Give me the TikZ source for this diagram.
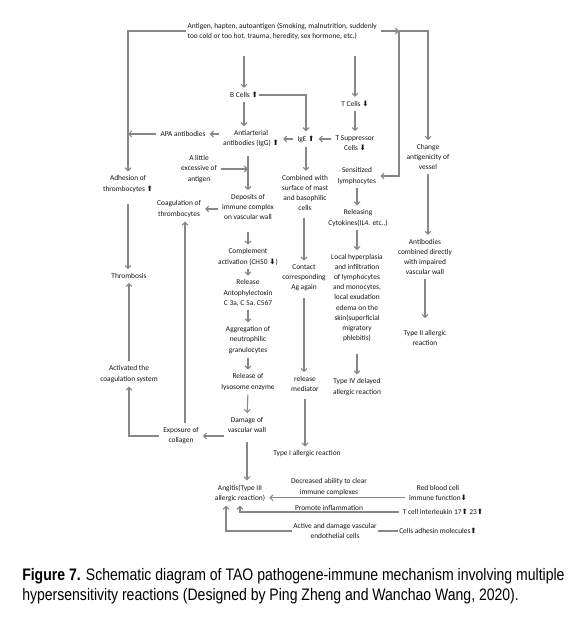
\documentclass[tikz,border=0pt]{standalone}
\usepackage{fontspec}
\setmainfont{Carlito}
\newfontfamily\capfont[FakeStretch=0.842]{Liberation Sans}
\newfontfamily\symfont{DejaVu Sans}
\usetikzlibrary{arrows.meta}
\definecolor{linegray}{RGB}{135,135,135}
\definecolor{textgray}{RGB}{20,20,20}
\newcommand{\uparr}{{\symfont\fontsize{5.6}{5}\selectfont ⬆}}
\newcommand{\dnarr}{{\symfont\fontsize{5.6}{5}\selectfont ⬇}}
\tikzset{
  box/.style={font=\fontsize{5.55}{7.6}\selectfont, align=center, inner sep=1pt, text=textgray},
  arr/.style={draw=linegray, line width=0.8pt, -{Straight Barb[length=2.2pt,width=4.4pt]},
    shorten >=2pt, shorten <=2pt},
}

\begin{document}
\begin{tikzpicture}[x=0.75pt, y=-0.75pt]
  \useasboundingbox (0,0) rectangle (580,624);
  % source of the antigens
  \node[box, anchor=west, align=left] (top) at (186,31)
    {Antigen, hapten, autoantigen (Smoking, malnutrition, suddenly\\too cold or too hot, trauma, heredity, sex hormone, etc.)};
  \coordinate (split) at (399,31);
  % first row
  \node[box] (bcells)    at (244,95)  {B Cells \uparr};
  \node[box] (tcells)    at (355,104) {T Cells \dnarr};
  \node[box] (apa)       at (183,134) {APA antibodies};
  \node[box] (igg)       at (251,139) {Antiarterial\\antibodies (IgG) \uparr};
  \node[box] (ige)       at (306,139) {IgE \uparr};
  \node[box] (tsup)      at (355,143) {T Suppressor\\Cells \dnarr};
  \node[box] (change)    at (428,157) {Change\\antigenicity of\\vessel};
  \node[box] (little)    at (199,169) {A little\\excessive of\\antigen};
  \node[box] (adhesion)  at (128,184) {Adhesion of\\thrombocytes \uparr};
  \node[box] (sens)      at (357,176) {Sensitized\\lymphocytes};
  \node[box] (combined)  at (305,193) {Combined with\\surface of mast\\and basophilic\\cells};
  \node[box] (deposits)  at (248,207) {Deposits of\\immune complex\\on vascular wall};
  \node[box] (coag)      at (179,209) {Coagulation of\\thrombocytes};
  \node[box] (cytok)     at (358,218) {Releasing\\Cytokines(IL4. etc..)};
  % middle rows
  \node[box] (antib)     at (425,257) {Antibodies\\combined directly\\with impaired\\vascular wall};
  \node[box] (complement) at (248,257) {Complement\\activation (CH50 \dnarr)};
  \node[box] (thromb)    at (129,276) {Thrombosis};
  \node[box] (contact)   at (304,278) {Contact\\corresponding\\Ag again};
  \node[box] (release)   at (248,293) {Release\\Antophylectoxin\\C 3a, C 5a, C567};
  \node[box] (local)     at (357,298) {Local hyperplasia\\and infiltration\\of lymphocytes\\and monocytes,\\local exudation\\edema on the\\skin(superficial\\migratory\\phlebitis)};
  \node[box] (typeII)    at (425,338) {Type II allergic\\reaction};
  \node[box] (aggreg)    at (248,340) {Aggregation of\\neutrophilic\\granulocytes};
  \node[box] (activated) at (129,374) {Activated the\\coagulation system};
  \node[box] (lyso)      at (248,382) {Release of\\lysosome enzyme};
  \node[box] (mediator)  at (305,384) {release\\mediator};
  \node[box] (typeIV)    at (357,387) {Type IV delayed\\allergic reaction};
  \node[box] (damage)    at (247,425) {Damage of\\vascular wall};
  \node[box] (exposure)  at (181,436) {Exposure of\\collagen};
  \node[box] (typeI)     at (307,454) {Type I allergic reaction};
  % bottom
  \node[box] (angitis)   at (240,493) {Angitis(Type III\\allergic reaction)};
  \node[box] (rbc)       at (438,493) {Red blood cell\\immune function\dnarr};
  \node[box] (tcell)     at (443,512) {T cell interleukin 17\uparr\ 23\uparr};
  \node[box] (adhesin)   at (438,531) {Cells adhesin molecules\uparr};

  % connectors
  \draw[arr, shorten <=0pt] (top.west) -| (adhesion.north);
  \draw[arr, shorten >=0pt] (top.east) -- (split);
  \draw[arr, shorten <=0pt] (split) |- (sens.east);
  \draw[arr, shorten <=0pt] (split) -| (change.north);
  \draw[arr, shorten <=11pt] (top.south -| bcells) -- (bcells.north);
  \draw[arr, shorten <=11pt] (top.south -| tcells) -- (tcells.north);
  \draw[arr, shorten <=0pt] (bcells.east) -| (ige.north);
  \draw[arr] (bcells.south) -- (bcells.south |- igg.north);
  \draw[arr] (igg.west |- apa) -- (apa.east);
  \draw[arr, shorten >=0pt] (apa.west) -- (apa.west -| adhesion.north);
  \draw[arr] (ige.west) -- (ige.west -| igg.east);
  \draw[arr] (tsup.west |- ige) -- (ige.east);
  \draw[arr] (tcells.south) -- (tsup.north);
  \draw[arr] (ige.south) -- (ige.south |- combined.north);
  \draw[arr, shorten <=5pt] (deposits.north |- igg.south) -- (deposits.north);
  \draw[arr, shorten >=0pt] (little.east) -- (little.east -| deposits.north);
  \draw[arr] (deposits.west |- coag) -- (coag.east);
  \draw[arr] (change.south) -- (change.south |- antib.north);
  \draw[arr, shorten >=8pt] (antib.south) -- (antib.south |- typeII.north);
  \draw[arr] (sens.south) -- (sens.south |- cytok.north);
  \draw[arr] (cytok.south -| local) -- (local.north);
  \draw[arr, shorten <=8pt] (local.south) -- (local.south |- typeIV.north);
  \draw[arr, shorten <=4pt] (combined.south -| contact) -- (contact.north);
  \draw[arr, shorten <=4pt] (contact.south) -- (contact.south |- mediator.north);
  \draw[arr, shorten <=4pt] (mediator.south) -- (mediator.south |- typeI.north);
  \draw[arr, shorten <=8pt] (deposits.south) -- (complement.north);
  \draw[arr] (complement.south) -- (release.north);
  \draw[arr] (release.south) -- (aggreg.north);
  \draw[arr] (aggreg.south) -- (lyso.north);
  \draw[arr] (lyso.south) -- (damage.north);
  \draw[arr, shorten <=6pt] (damage.south) -- (damage.south |- angitis.north);
  \draw[arr] (exposure.east -| damage.west) -- (exposure.east);
  \draw[arr] ([xshift=3pt]exposure.north) -- ([xshift=3pt]exposure.north |- coag.south);
  \draw[arr] (exposure.west) -| (activated.south);
  \draw[arr, shorten <=8pt] (adhesion.south) -- (adhesion.south |- thromb.north);
  \draw[arr] (activated.north) -- (thromb.south);
  \draw[arr] ([yshift=-3.6pt]rbc.west) -- ([yshift=-3.6pt]rbc.west -| angitis.east);
  \draw[arr] (tcell.west) -| (angitis.south);
  \draw[arr, shorten <=0pt] (adhesin.west) -| ([xshift=-10.5pt]angitis.south);
  % labels on the bottom connectors
  \node[box] (decreased) at (329,487) {Decreased ability to clear\\immune complexes};
  \node[box] (promote)   at (329,508) {Promote inflammation};
  \node[box, fill=white] (active) at (335,531) {Active and damage vascular\\endothelial cells};

  % caption
  \node[anchor=north west, align=left, inner sep=0pt, font=\capfont\fontsize{12.5}{15}\selectfont]
    (caption) at (22,568) {\textbf{Figure 7.} Schematic diagram of TAO pathogene-immune mechanism involving multiple\\hypersensitivity reactions (Designed by Ping Zheng and Wanchao Wang, 2020).};
\end{tikzpicture}
\end{document}
